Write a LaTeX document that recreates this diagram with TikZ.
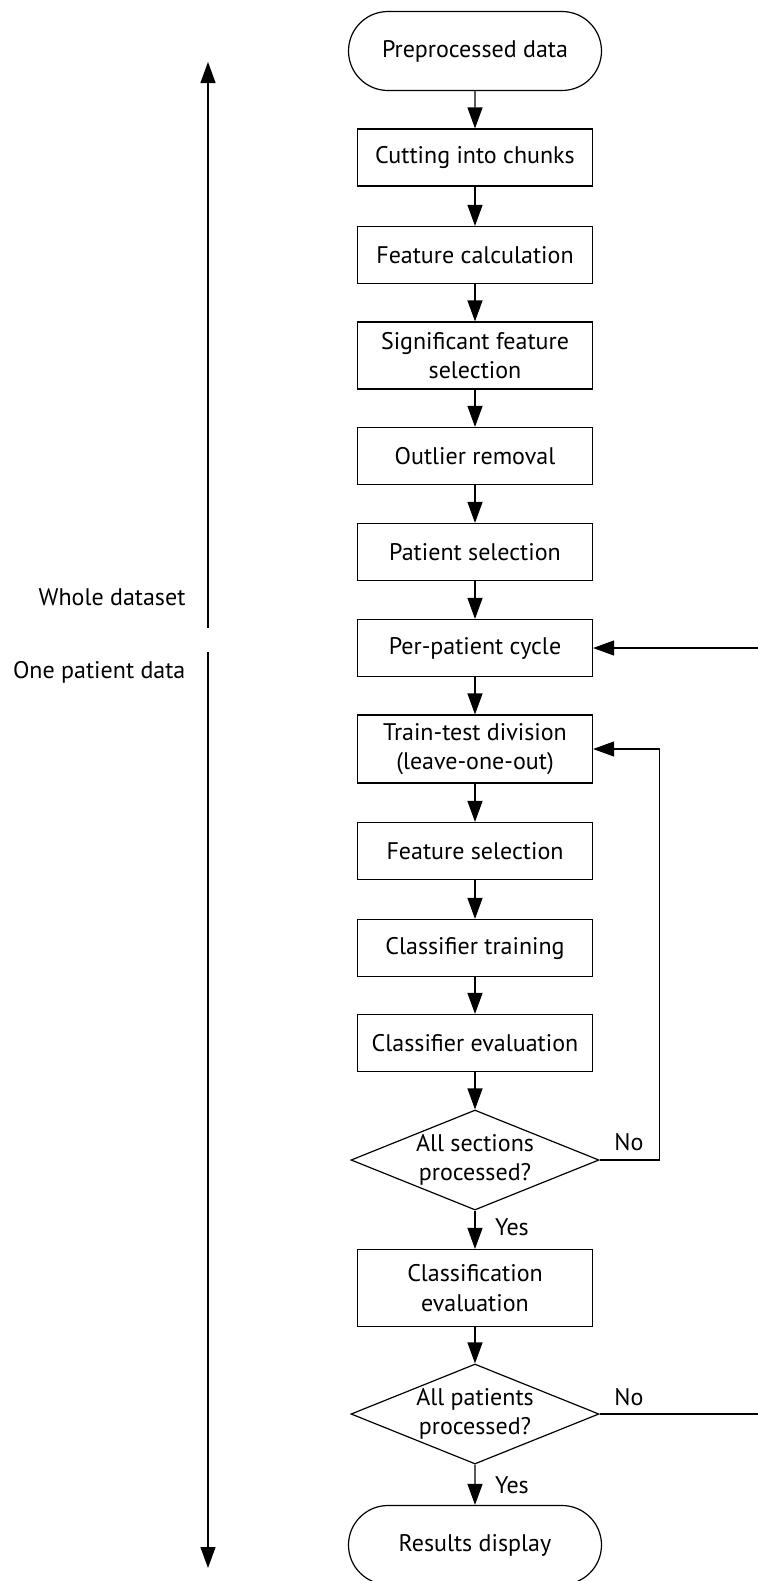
\documentclass[tikz,border=0pt]{standalone}
\usepackage{fontspec}
\setmainfont{PT Sans}
\usetikzlibrary{shapes,arrows.meta}

\tikzset{
  proc/.style={draw, rectangle, minimum width=117.5pt, minimum height=28.5pt, align=center, inner sep=0pt},
  term/.style={draw, rounded rectangle, minimum width=126.5pt, minimum height=39.5pt, inner sep=0pt},
  dec/.style={draw, diamond, aspect=2.48, minimum width=124pt, minimum height=50pt, inner sep=0pt, align=center},
  flow/.style={-{Triangle[length=10.5pt,width=7.5pt]}},
}

\begin{document}
\begin{tikzpicture}[x=0.5pt,y=-0.5pt,line width=0.6pt,font=\fontsize{12}{14.6}\selectfont]
\clip (0,0) rectangle (758,1581); 	% page size

% main column
\node[term] (pre) at (475,51) {Preprocessed data};
\node[proc] (cut) at (475,157.5) {Cutting into chunks};
\node[proc] (feat) at (475,255) {Feature calculation};
\node[proc,minimum height=33.5pt] (sig) at (475,355.5) {Significant feature\\selection};
\node[proc] (outl) at (475,456) {Outlier removal};
\node[proc] (psel) at (475,552) {Patient selection};
\node[proc] (cyc) at (475,648) {Per-patient cycle};
\node[proc,minimum height=34pt] (tt) at (475,749) {Train-test division\\(leave-one-out)};
\node[proc] (fsel) at (475,851) {Feature selection};
\node[proc] (ctrain) at (475,948) {Classifier training};
\node[proc] (ceval) at (475,1043) {Classifier evaluation};
\node[dec] (allsec) at (475,1160) {All sections\\processed?};
\node[proc,minimum height=38.5pt] (clev) at (475,1288) {Classification\\evaluation};
\node[dec] (allpat) at (475,1414) {All patients\\processed?};
\node[term] (res) at (475,1545) {Results display};

\foreach \a/\b in {pre/cut,cut/feat,feat/sig,sig/outl,outl/psel,psel/cyc,cyc/tt,tt/fsel,fsel/ctrain,ctrain/ceval,ceval/allsec,allsec/clev,clev/allpat,allpat/res}
\draw[flow] (\a) -- (\b);

% loops back
\draw[flow] (allsec.east) -- ++(60,0) |- (tt.east);
\draw[flow] (allpat.east) -- ++(175,0) |- (cyc.east);
\node (no1) at (629,1142) {No};
\node (yes1) at (512,1227) {Yes};
\node (no2) at (629,1397) {No};
\node (yes2) at (512,1485) {Yes};

% left scale
\coordinate (wtop) at (208,62);
\coordinate (wbot) at (208,628);
\coordinate (otop) at (208,652);
\coordinate (obot) at (208,1568);
\draw[flow] (wbot) -- (wtop);
\draw[flow] (otop) -- (obot);
\node[anchor=east,inner sep=0pt] (whole) at (186,597) {Whole dataset};
\node[anchor=east,inner sep=0pt] (onepat) at (186,672) {One patient data};
\end{tikzpicture}
\end{document}
